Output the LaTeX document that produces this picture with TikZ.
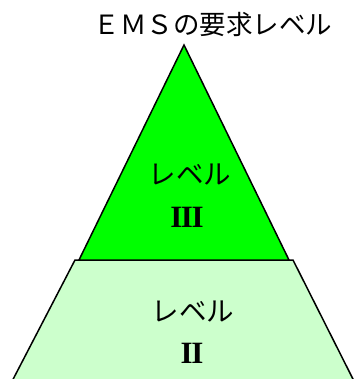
\documentclass[tikz,border=0pt]{standalone}
\usepackage{fontspec}
\newfontfamily\jpfont{Noto Sans CJK JP}
\newfontfamily\numfont{Liberation Serif}
\begin{document}
\begin{tikzpicture}[x=1pt,y=-1pt,
  shapeline/.style={draw=black,line width=1.5pt,line join=miter},
  titletext/.style={font=\jpfont\fontsize{26.5}{26.5}\selectfont,inner sep=0pt},
  labeltext/.style={font=\jpfont\fontsize{27.5}{27.5}\selectfont,inner sep=0pt},
  numtext/.style={font=\numfont\bfseries\fontsize{31}{31}\selectfont,inner sep=0pt}]
\useasboundingbox (0,0) rectangle (354,379);
\begin{scope}
\clip (0,0) rectangle (354,379);
% lower trapezoid
\fill[fill={rgb,255:red,204;green,255;blue,204}] (75,260) -- (293,260) -- (358.5,390) -- (7.5,390) -- cycle;
\draw[shapeline] (7.5,390) -- (75,260) -- (293,260) -- (358.5,390);
% top triangle
\filldraw[shapeline,fill={rgb,255:red,0;green,255;blue,0}] (184,45) -- (289,260) -- (79,260) -- cycle;
\end{scope}
\node[titletext] (title) at (213,24) {ＥＭＳの要求レベル};
\node[labeltext] (l3) at (190,175) {レベル};
\node[numtext] (n3) at (187,217) {I\kern-1.5pt I\kern-1.5pt I};
\node[labeltext] (l2) at (193,312) {レベル};
\node[numtext] (n2) at (192,353) {I\kern-1.5pt I};
\end{tikzpicture}
\end{document}
